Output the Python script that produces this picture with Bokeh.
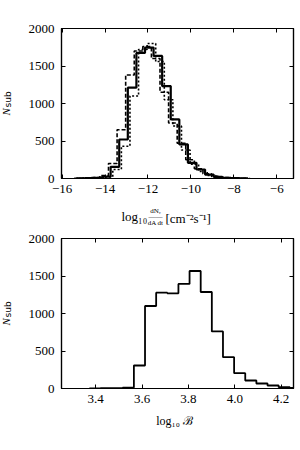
from bokeh.plotting import figure
from bokeh.models import FixedTicker, LinearAxis, Label
from bokeh.layouts import column
from bokeh.embed import file_html
from bokeh.resources import INLINE

# ---------------- data ----------------
flux_edges_solid = [-15.34, -14.94, -14.54, -14.14, -13.74, -13.34, -12.94, -12.54, -12.14, -11.74,
                    -11.34, -10.94, -10.54, -10.14, -9.74, -9.34, -8.94, -8.54, -8.14, -7.74, -7.34]
flux_counts_solid = [3, 5, 10, 25, 156, 520, 1211, 1674, 1746, 1634,
                     1233, 788, 454, 209, 120, 53, 22, 9, 4, 2]

flux_edges_dashed = [-15.44, -15.04, -14.64, -14.24, -13.84, -13.44, -13.04, -12.64, -12.24, -11.84,
                     -11.44, -11.04, -10.64, -10.24, -9.84, -9.44, -9.04, -8.64, -8.24, -7.84, -7.44]
flux_counts_dashed = [2, 5, 12, 40, 200, 650, 1380, 1700, 1760, 1600,
                      1150, 740, 470, 250, 130, 62, 28, 12, 5, 2]

flux_edges_dotted = [-15.24, -14.84, -14.44, -14.04, -13.64, -13.24, -12.84, -12.44, -12.04, -11.64,
                     -11.24, -10.84, -10.44, -10.04, -9.64, -9.24, -8.84, -8.44, -8.04, -7.64, -7.24]
flux_counts_dotted = [2, 4, 8, 20, 120, 430, 1100, 1720, 1800, 1560,
                      1050, 700, 380, 190, 95, 40, 16, 6, 3, 1]

boost_edges = [3.373, 3.421, 3.469, 3.517, 3.565, 3.613, 3.661, 3.709, 3.757, 3.805,
               3.853, 3.901, 3.949, 3.997, 4.045, 4.093, 4.141, 4.189, 4.237, 4.285]
boost_counts = [2, 5, 6, 12, 307, 1100, 1278, 1269, 1394, 1567,
                1287, 761, 418, 205, 107, 67, 40, 18, 9]

top_xticks = [-16, -14, -12, -10, -8, -6]
top_xticklabels = ["\u221216", "\u221214", "\u221212", "\u221210", "\u22128", "\u22126"]
bot_xticks = [3.4, 3.6, 3.8, 4.0, 4.2]
bot_xticklabels = ["3.4", "3.6", "3.8", "4.0", "4.2"]
yticks = [0, 500, 1000, 1500, 2000]
yticklabels = ["0", "500", "1000", "1500", "2000"]

SERIF = "Liberation Serif"
SANS = "DejaVu Sans"


def step_xy(edges, counts):
    return list(edges), list(counts) + [counts[-1]]


def style_axis(ax, ticks, labels, show_labels=True, standoff=6):
    ax.ticker = FixedTicker(ticks=ticks)
    ax.major_label_overrides = {t: (l if show_labels else "") for t, l in zip(ticks, labels)}
    ax.major_tick_in = 4
    ax.major_tick_out = 0
    ax.minor_tick_in = 0
    ax.minor_tick_out = 0
    ax.axis_line_color = "black"
    ax.axis_line_width = 1.2
    ax.major_tick_line_color = "black"
    ax.major_tick_line_width = 1
    ax.major_label_text_font = SERIF
    ax.major_label_text_font_size = "13px" if show_labels else "1px"
    ax.major_label_text_color = "black"
    ax.major_label_standoff = standoff if show_labels else 0


def make_fig(height, x_range, xticks, xlabels, btop, bbottom):
    p = figure(width=300, height=height, x_range=x_range, y_range=(0, 2000),
               output_backend="svg", toolbar_location=None,
               min_border_left=61, min_border_right=7,
               min_border_top=btop, min_border_bottom=bbottom)
    p.xgrid.visible = False
    p.ygrid.visible = False
    p.outline_line_color = "black"
    p.outline_line_width = 1.2
    style_axis(p.xaxis[0], xticks, xlabels, standoff=6)
    style_axis(p.yaxis[0], yticks, yticklabels, standoff=7)
    top = LinearAxis()
    style_axis(top, xticks, xlabels, show_labels=False)
    right = LinearAxis()
    style_axis(right, yticks, yticklabels, show_labels=False)
    p.add_layout(top, "above")
    p.add_layout(right, "right")
    return p


def lab(p, side, x, y, text, size, font=SERIF, style="normal", angle=0, align="left", lh=1.2):
    p.add_layout(Label(x=x, y=y, x_units="screen", y_units="screen", text=text,
                       text_font=font, text_font_style=style, text_font_size=size,
                       angle=angle, angle_units="deg", text_align=align,
                       text_baseline="middle", text_line_height=lh,
                       text_color="black"), side)


def add_ylabel(p):
    # inner panel first ("sub"), then outer ("N")
    lab(p, "left", -7.5, 71, "sub", "9px", font=SANS, angle=90)
    lab(p, "left", 2, 63, "N", "11px", style="italic", angle=90)


# ---------------- top panel ----------------
p1 = make_fig(225, (-16.03, -5.22), top_xticks, top_xticklabels, 28, 47)
xs, ys = step_xy(flux_edges_dashed, flux_counts_dashed)
p1.step(xs, ys, mode="after", line_color="black", line_width=1.6, line_dash="4 2")
xs, ys = step_xy(flux_edges_dotted, flux_counts_dotted)
p1.step(xs, ys, mode="after", line_color="black", line_width=1.6, line_dash="2 2")
xs, ys = step_xy(flux_edges_solid, flux_counts_solid)
p1.step(xs, ys, mode="after", line_color="black", line_width=2.2)
add_ylabel(p1)

# x label pieces: log10 dN_gamma / (dA dt) [cm^-2 s^-1]
lab(p1, "below", 60, -6, "log\u2081\u2080", "13px")
lab(p1, "below", 104, 7.5, "[cm\u207b\u00b2s\u207b\u00b9]", "13px")
lab(p1, "above", 94, -188, "dN\u1d67\n\u2014\u2014\ndA dt", "7px", align="center", lh=0.75)

# ---------------- bottom panel ----------------
p2 = make_fig(225, (3.253, 4.253), bot_xticks, bot_xticklabels, 13, 62)
xs, ys = step_xy(boost_edges, boost_counts)
p2.step(xs, ys, mode="after", line_color="black", line_width=1.8)
add_ylabel(p2)
lab(p2, "below", 113, -1, "log\u2081\u2080 \u212c", "12px", align="center")

layout = column(p1, p2)
open("out.html", "w").write(file_html(layout, INLINE))
